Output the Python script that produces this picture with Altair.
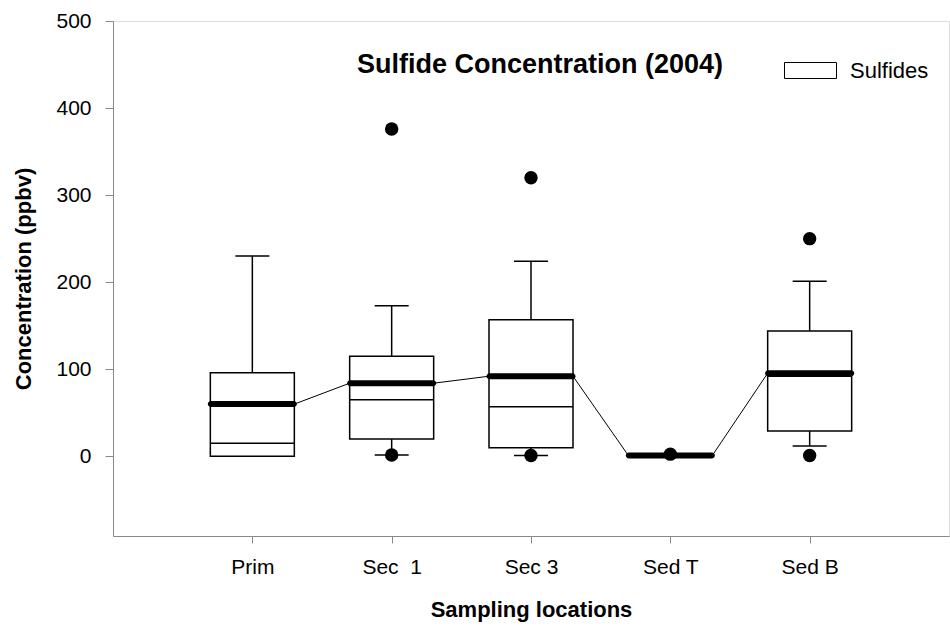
import altair as alt
import pandas as pd

# ---- data ----
categories = ["Prim", "Sec\u00a0 1", "Sec 3", "Sed T", "Sed B"]
low_whisker = [0, 1.5, 1, 0, 12]
q1 = [0, 20, 10, 0, 29]
median = [15, 65, 57, 0, 92]
q3 = [96, 115, 157, 0, 144]
high_whisker = [230, 173, 224, 0, 201]
mean = [60, 84, 92, 1, 95.5]
outlier_cat = ["Sec\u00a0 1", "Sec\u00a0 1", "Sec 3", "Sec 3", "Sed T", "Sed B", "Sed B"]
outlier_val = [1.5, 376, 1, 320, 2.5, 1, 250]
y_ticks = [0, 100, 200, 300, 400, 500]
series_name = "Sulfides"

FONT = "Liberation Sans"
BOX_W = 84
CAP_W = 34

stats = pd.DataFrame({
    "cat": categories, "low": low_whisker, "q1": q1, "median": median,
    "q3": q3, "high": high_whisker, "mean": mean, "series": series_name,
})
outliers = pd.DataFrame({"cat": outlier_cat, "val": outlier_val})

line_rows = []
for i, (c, m) in enumerate(zip(categories, mean)):
    line_rows.append({"cat": c, "mean": m, "off": -BOX_W / 2, "seq": 2 * i})
    line_rows.append({"cat": c, "mean": m, "off": BOX_W / 2, "seq": 2 * i + 1})
line_df = pd.DataFrame(line_rows)

x_enc = alt.X(
    "cat:N", sort=categories,
    scale=alt.Scale(type="point", padding=1),
    axis=alt.Axis(
        title="Sampling locations", labelAngle=0, tickSize=7, labelPadding=13,
        labelFontSize=21, titleFontSize=22, titleFontWeight="bold",
        titleX=418, titleY=73, titleBaseline="middle", titleAlign="center",
    ),
)
y_scale = alt.Scale(domain=[-91.5, 500], nice=False, zero=False)
y_axis = alt.Axis(
    title="Concentration (ppbv)", values=y_ticks, tickSize=8, labelPadding=14,
    labelFontSize=21, titleFontSize=22, titleFontWeight="bold",
    titleX=-90, titleY=257.5, titleAngle=270, titleAlign="center",
    titleBaseline="middle", grid=False,
)

base = alt.Chart(stats)

mean_line = alt.Chart(line_df).mark_line(color="black", strokeWidth=1).encode(
    x=x_enc,
    xOffset=alt.XOffset("off:Q", scale=None),
    y=alt.Y("mean:Q", scale=y_scale, axis=y_axis),
    order=alt.Order("seq:Q"),
)

whisk_hi = base.mark_rule(color="black", strokeWidth=1.5).encode(
    x=x_enc, y=alt.Y("q3:Q", scale=y_scale, axis=y_axis), y2="high:Q")
whisk_lo = base.mark_rule(color="black", strokeWidth=1.5).encode(
    x=x_enc, y=alt.Y("low:Q", scale=y_scale, axis=y_axis), y2="q1:Q")
cap_hi = base.mark_tick(color="black", opacity=1, size=CAP_W, thickness=1.5).encode(
    x=x_enc, y=alt.Y("high:Q", scale=y_scale, axis=y_axis))
cap_lo = base.mark_tick(color="black", opacity=1, size=CAP_W, thickness=1.5).encode(
    x=x_enc, y=alt.Y("low:Q", scale=y_scale, axis=y_axis))

box = base.mark_bar(size=BOX_W, stroke="black", strokeWidth=1.5, opacity=1).encode(
    x=x_enc,
    y=alt.Y("q1:Q", scale=y_scale, axis=y_axis),
    y2="q3:Q",
    fill=alt.Fill(
        "series:N",
        scale=alt.Scale(domain=[series_name], range=["white"]),
        legend=alt.Legend(
            title=None, orient="none", legendX=671, legendY=23, padding=0,
            symbolType="M-1,-0.3077H1V0.3077H-1Z", symbolSize=2704,
            symbolStrokeColor="black", symbolStrokeWidth=1,
            symbolFillColor="white", symbolOpacity=1, labelFontSize=22,
            labelOffset=13, labelFont=FONT, labelColor="black",
        ),
    ),
)

med = base.mark_tick(color="black", opacity=1, size=BOX_W, thickness=1.5).encode(
    x=x_enc, y=alt.Y("median:Q", scale=y_scale, axis=y_axis))

mean_tick = base.mark_tick(color="black", opacity=1, size=BOX_W + 5, thickness=6,
                           cornerRadius=3).encode(
    x=x_enc, y=alt.Y("mean:Q", scale=y_scale, axis=y_axis))

pts = alt.Chart(outliers).mark_circle(color="black", opacity=1, size=180).encode(
    x=x_enc, y=alt.Y("val:Q", scale=y_scale, axis=y_axis))

chart = alt.layer(
    mean_line, whisk_hi, whisk_lo, cap_hi, cap_lo, box, med, mean_tick, pts
).properties(
    width=836, height=515,
    title=alt.TitleParams(
        "Sulfide Concentration (2004)", frame="group", anchor="middle",
        baseline="alphabetic", offset=0, dy=90, dx=9, fontSize=27,
        fontWeight="bold", font=FONT, color="black",
    ),
    autosize=alt.AutoSizeParams(type="none"),
    padding={"left": 113, "top": 21, "right": 1, "bottom": 98},
).configure_view(
    stroke="black", strokeWidth=2,
).configure_axis(
    labelFont=FONT, titleFont=FONT, labelColor="black", titleColor="black",
    domainColor="black", tickColor="black", domainWidth=2, tickWidth=1.5,
).configure(background="white")

chart.save("out.html", embed_options={"renderer": "svg", "actions": False})
